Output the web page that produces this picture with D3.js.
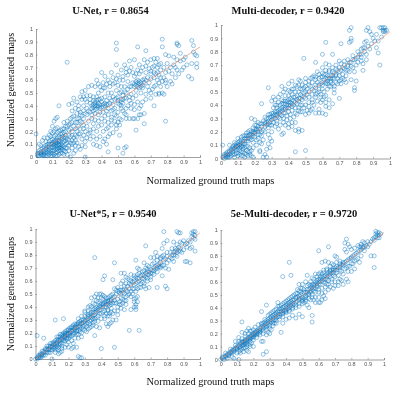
<!DOCTYPE html>
<html><head><meta charset="utf-8">
<script src="https://cdn.jsdelivr.net/npm/d3@7/dist/d3.min.js"></script>
<style>html,body{margin:0;padding:0;background:#fff}svg{display:block;filter:blur(.3px)}</style></head>
<body><svg id="c" width="400" height="394"></svg>
<script>
const tickValues=[0,.1,.2,.3,.4,.5,.6,.7,.8,.9,1];
const titles=["U-Net, r = 0.8654","Multi-decoder, r = 0.9420","U-Net*5, r = 0.9540","5e-Multi-decoder, r = 0.9720"];
const xLabel="Normalized ground truth maps";
const yLabel="Normalized generated maps";
const fitEnds=[[.02,.86],[0,.95],[0,.97],[0,.98]];
const unet=[[.19,.74],[.49,.89],[.49,.84],[.62,.86],[.67,.83],[.77,.92],[.77,.86],[.86,.89],[.86,.88],[.87,.87],[.95,.91],[.96,.87],[.97,.8],[.96,.82],[.98,.79],[.95,.73],[.98,.73],[.98,.7],[.93,.63],[.95,.61],[.79,.28],[.61,.21],[.66,.26],[.3,0],[.5,.07],[.53,.03],[.54,.07],[.55,.08],[.44,.04],[.51,.17],[.14,.4],[.0,.18],[.2,.41],[.22,.42],[.23,.46],[.28,.51],[.3,.52],[.32,.55],[.36,.55],[.37,.6],[.4,.66],[.42,.63],[.46,.66],[.49,.72],[.55,.69],[.57,.75],[.6,.76],[.63,.72],[.66,.76],[.7,.76],[.72,.77],[.74,.77],[.79,.8],[.81,.79],[.84,.78],[.88,.81],[.86,.76],[.9,.76],[.84,.72],[.8,.73],[.76,.73],[.72,.71],[.68,.74],[.65,.7],[.62,.68],[.58,.7],[.54,.72],[.52,.68],[.5,.64],[.47,.62],[.44,.6],[.41,.58],[.38,.57],[.34,.56],[.56,.64],[.6,.63],[.63,.65],[.67,.66],[.7,.67],[.73,.65],[.76,.68],[.79,.66],[.82,.7],[.86,.68],[.89,.68],[.92,.72],[.78,.62],[.74,.6],[.7,.61],[.66,.61],[.62,.6],[.6,.57],[.61,.56],[.63,.57],[.62,.58],[.64,.58],[.59,.58],[.57,.55],[.54,.55],[.52,.55],[.5,.56],[.48,.58],[.45,.55],[.42,.54],[.4,.52],[.38,.5],[.35,.47],[.33,.48],[.3,.45],[.28,.45],[.26,.4],[.24,.38],[.22,.36],[.25,.43],[.68,.55],[.72,.55],[.75,.5],[.78,.49],[.8,.55],[.83,.57],[.76,.55],[.7,.5],[.67,.49],[.64,.5],[.61,.48],[.58,.49],[.55,.5],[.54,.46],[.52,.45],[.5,.47],[.5,.42],[.48,.45],[.52,.43],[.53,.42],[.45,.46],[.43,.44],[.4,.43],[.38,.42],[.36,.42],[.37,.4],[.38,.4],[.39,.41],[.36,.4],[.35,.41],[.37,.44],[.39,.45],[.41,.41],[.42,.4],[.44,.38],[.46,.36],[.48,.38],[.5,.35],[.54,.34],[.57,.3],[.59,.3],[.62,.3],[.63,.33],[.66,.34],[.6,.37],[.64,.4],[.58,.42],[.72,.4],[.34,.38],[.32,.36],[.3,.34],[.28,.32],[.26,.3],[.24,.27],[.22,.27],[.32,.28],[.34,.3],[.36,.34],[.38,.33],[.4,.3],[.42,.28],[.44,.27],[.46,.25],[.48,.28],[.49,.22],[.43,.22],[.41,.2],[.38,.24],[.35,.26],[.31,.24],[.29,.25],[.27,.22],[.25,.2],[.3,.2],[.32,.18],[.35,.1],[.37,.09],[.39,.08],[.42,.14],[.44,.16],[.28,.14],[.3,.08],[.27,.06],[.25,.11],[.24,.05],[.22,.1],[.2,.13],[.18,.2],[.16,.18],[.14,.2],[.12,.22],[.1,.24],[.08,.17],[.06,.12],[.04,.13],[.02,.1],[.1,.19],[.09,.2],[.12,.3],[.13,.31],[.11,.28],[.17,.27],[.19,.24],[.21,.22],[.18,.17],[.17,.15],[.16,.14],[.15,.12],[.14,.1],[.13,.09],[.12,.08],[.11,.09],[.1,.08],[.09,.07],[.08,.06],[.07,.05],[.06,.04],[.05,.03],[.04,.02],[.03,.02],[.02,.01],[.01,.02],[.01,.03],[.03,.04],[.05,.05],[.07,.08],[.09,.1],[.11,.12],[.13,.13],[.15,.15],[.14,.05],[.13,.04],[.12,.03],[.11,.02],[.1,.03],[.09,.01],[.08,.02],[.07,.01],[.06,.01],[.05,.01],[.04,.01],[.16,.03],[.18,.04],[.2,.05],[.21,0],[.19,.07],[.17,.08],[.16,.09],[.18,.1],[.15,.07],[.14,.07],[.12,.06],[.1,.05],[.09,.05],[.19,.14],[.21,.16],[.23,.15],[.13,.15],[.11,.16],[.12,.12],[.1,.11],[.08,.1],[.06,.09],[.17,.05],[.15,.03],[.13,.01],[.03,.06],[.33,.14],[.52,.38],[.55,.38],[.57,.44],[.47,.41],[.49,.32],[.51,.3],[.35,.36],[.33,.42],[.31,.43],[.29,.4],[.27,.35],[.23,.32],[.21,.3],[.2,.25],[.83,.65],[.74,.7],[.75,.64],[.69,.58],[.65,.54],[.56,.59],[.53,.6],[.46,.5],[.44,.5],
[.11,.07],[.12,.13],[.13,.11],[.14,.13],[.15,.1],[.16,.11],[.17,.12],[.18,.13],[.15,.18],[.14,.16],[.12,.17],[.1,.14],[.09,.13],[.08,.12],[.07,.1],[.05,.08],[.04,.07],[.03,.09],[.02,.05],[.06,.06],[.07,.03],[.08,.04],[.1,.01],[.12,.01],[.14,.02],[.16,.06],[.18,.07],[.2,.09],[.21,.11],[.22,.13],[.23,.11],[.24,.13],[.25,.16],[.26,.18],[.27,.18],[.29,.17],[.31,.15],[.3,.12],[.28,.09],[.26,.08],[.24,.09],[.23,.03],[.22,.07],[.19,.11],[.17,.19],[.16,.22],[.15,.21],[.13,.23],[.11,.2],[.09,.16],[.07,.15],[.05,.15],[.13,.19],[.18,.24],[.2,.21],[.22,.2],[.24,.22],[.26,.24],[.28,.27],[.29,.3],[.31,.33],[.33,.35],[.34,.33],[.36,.37],[.37,.38],[.38,.39],[.39,.38],[.4,.39],[.41,.39],[.42,.42],[.43,.41],[.44,.41],[.34,.4],[.35,.39],[.36,.43],[.38,.45],[.4,.46],[.42,.47],[.37,.47],[.35,.44],[.33,.45],[.31,.48],[.29,.47],[.27,.47],[.26,.37],[.25,.34],[.23,.24],[.25,.27],[.27,.28],[.29,.22],[.33,.21],[.35,.22],[.37,.2],[.36,.29],[.38,.28],[.4,.25],[.42,.32],[.44,.33],[.46,.31],[.48,.33],[.5,.27],[.47,.19],[.45,.18],[.43,.1],[.41,.12],[.39,.16],[.37,.14],[.35,.16],[.33,.19],[.49,.25],[.51,.25],[.53,.36],[.55,.33],[.56,.4],[.58,.38],[.6,.41],[.62,.43],[.63,.38],[.65,.43],[.67,.45],[.7,.46],[.73,.49],[.75,.49],[.77,.5],[.69,.52],[.71,.53],[.73,.56],[.75,.58],[.77,.59],[.79,.58],[.82,.59],[.85,.62],[.87,.65],[.9,.7],[.91,.78],[.88,.75],[.85,.7],[.81,.67],[.78,.7],[.75,.72],[.73,.74],[.71,.7],[.69,.69],[.67,.71],[.64,.67],[.61,.65],[.59,.66],[.57,.67],[.55,.66],[.53,.63],[.51,.6],[.49,.61],[.47,.57],[.45,.58],[.43,.57],[.41,.54],[.39,.55],[.49,.52],[.51,.5],[.53,.48],[.55,.46],[.57,.47],[.59,.46],[.61,.52],[.63,.54],[.65,.56],[.66,.58],[.6,.55],[.62,.55],[.64,.55],[.61,.59],[.63,.59],[.65,.6],[.67,.6],[.58,.55],[.56,.53],[.54,.51],[.52,.51],[.5,.44],[.51,.41],[.53,.45],[.52,.4],[.49,.46],[.47,.47],[.46,.44],[.45,.42],[.47,.37],[.43,.36],[.41,.35],[.39,.35],[.68,.62],[.7,.65],[.72,.62],[.74,.66],[.72,.66],[.76,.62],[.79,.6],[.55,.3],[.6,.3],[.64,.33],[.52,.29],[.46,.29],[.44,.23],[.31,.38],[.29,.36],[.27,.33],[.25,.3],[.22,.31],[.21,.26],[.19,.28],[.17,.22],[.2,.17],[.22,.17],[.24,.17],[.18,.15],[.16,.16],[.14,.12],[.12,.1],[.1,.1],[.08,.08],[.06,.07],[.04,.04],[.02,.03],[.03,.03],[.01,.01],[.05,.02],[.09,.03],[.11,.05],[.13,.06],[.15,.05],[.17,.02],[.19,.02],[.13,.07],[.15,.08],[.16,.07],[.14,.09],[.12,.11],[.11,.1]];
const multi=[[.77,.98],[.76,.96],[.77,.9],[.77,.88],[.76,.87],[.62,.87],[.71,.86],[.86,.96],[.87,.98],[.88,.95],[.89,.93],[.9,.9],[.94,.98],[.95,.98],[.96,.98],[.97,.98],[.96,.96],[.97,.96],[.96,.95],[.97,.95],[.93,.88],[.92,.83],[.93,.79],[.94,.7],[.86,.88],[.85,.87],[.84,.83],[.83,.82],[.88,.82],[.81,.8],[.78,.77],[.8,.75],[.83,.76],[.86,.74],[.84,.71],[.84,.66],[.8,.7],[.76,.72],[.73,.73],[.71,.71],[.72,.68],[.75,.66],[.77,.69],[.79,.65],[.8,.58],[.79,.53],[.79,.51],[.77,.59],[.74,.62],[.74,.57],[.71,.56],[.7,.45],[.67,.49],[.67,.54],[.65,.58],[.62,.57],[.63,.52],[.61,.46],[.6,.44],[.62,.47],[.64,.44],[.66,.41],[.64,.38],[.62,.39],[.6,.34],[.62,.33],[.59,.42],[.56,.34],[.58,.37],[.55,.4],[.52,.46],[.54,.48],[.56,.53],[.58,.55],[.6,.57],[.63,.6],[.65,.62],[.67,.64],[.69,.66],[.66,.68],[.64,.7],[.62,.71],[.6,.68],[.66,.78],[.6,.78],[.56,.72],[.57,.65],[.55,.62],[.53,.6],[.49,.75],[.5,.6],[.47,.58],[.46,.59],[.42,.58],[.4,.56],[.38,.52],[.41,.5],[.43,.52],[.45,.54],[.47,.52],[.49,.53],[.51,.52],[.53,.54],[.59,.61],[.61,.63],[.63,.62],[.65,.57],[.67,.6],[.69,.6],[.7,.62],[.72,.63],[.74,.66],[.76,.65],[.62,.56],[.6,.55],[.58,.52],[.56,.48],[.54,.44],[.52,.42],[.5,.45],[.48,.47],[.46,.45],[.44,.46],[.42,.44],[.4,.44],[.38,.43],[.36,.44],[.34,.46],[.32,.44],[.3,.43],[.37,.41],[.39,.4],[.41,.4],[.43,.4],[.45,.41],[.47,.4],[.49,.38],[.51,.36],[.53,.36],[.48,.35],[.46,.36],[.44,.34],[.42,.36],[.4,.38],[.38,.37],[.36,.38],[.35,.37],[.34,.36],[.33,.38],[.32,.35],[.31,.34],[.3,.34],[.29,.33],[.28,.33],[.27,.3],[.26,.31],[.28,.53],[.24,.41],[.31,.38],[.33,.32],[.35,.33],[.37,.34],[.39,.32],[.41,.3],[.4,.26],[.42,.24],[.44,.27],[.46,.22],[.48,.21],[.35,.25],[.37,.27],[.38,.25],[.36,.18],[.37,.19],[.33,.28],[.31,.27],[.3,.25],[.3,.2],[.28,.23],[.28,.18],[.29,.15],[.3,.13],[.28,.11],[.29,.08],[.27,.07],[.26,.03],[.27,.01],[.25,.01],[.23,.06],[.23,.05],[.24,.11],[.24,.17],[.25,.21],[.26,.24],[.24,.26],[.22,.27],[.2,.25],[.18,.3],[.2,.29],[.22,.24],[.21,.22],[.19,.2],[.17,.18],[.18,.16],[.16,.2],[.15,.17],[.14,.15],[.13,.17],[.12,.14],[.11,.13],[.1,.12],[.09,.11],[.08,.1],[.07,.09],[.06,.07],[.05,.06],[.04,.05],[.03,.04],[.02,.02],[.01,.01],[.01,.1],[.05,.1],[.07,.08],[.09,.09],[.11,.1],[.13,.11],[.15,.13],[.17,.15],[.19,.17],[.2,.19],[.21,.14],[.19,.12],[.17,.08],[.16,.05],[.15,.03],[.14,.04],[.13,.02],[.12,.05],[.11,.03],[.1,.02],[.09,.04],[.08,.03],[.07,.05],[.06,.02],[.05,.01],[.04,.01],[.03,.01],[.02,0],[.18,.02],[.19,.01],[.17,.03],[.16,.09],[.14,.08],[.12,.09],[.1,.07],[.08,.07],[.15,.09],[.13,.07],[.44,.05],[.5,.06],[.44,.21],[.46,.2],[.25,.14],[.22,.2],[.23,.18],[.26,.27],[.29,.27],[.32,.4],[.34,.42],[.31,.46],[.35,.48],[.36,.54],[.55,.51],[.57,.49],[.59,.48],[.61,.5],[.64,.54],[.66,.56],[.68,.57],[.7,.58],[.72,.6],[.68,.7],[.7,.73],[.75,.74],[.78,.74],[.82,.78],[.85,.8],
[.12,.12],[.13,.13],[.14,.13],[.15,.15],[.16,.15],[.17,.17],[.18,.18],[.19,.19],[.2,.2],[.21,.21],[.22,.22],[.23,.22],[.24,.24],[.11,.11],[.1,.1],[.09,.09],[.08,.08],[.07,.07],[.06,.06],[.05,.05],[.04,.03],[.03,.03],[.15,.19],[.17,.21],[.19,.23],[.21,.25],[.23,.26],[.25,.28],[.27,.27],[.16,.17],[.14,.17],[.12,.16],[.1,.15],[.08,.12],[.18,.2],[.2,.22],[.22,.18],[.2,.16],[.18,.14],[.16,.13],[.14,.11],[.12,.1],[.1,.09],[.28,.3],[.29,.31],[.3,.31],[.31,.32],[.32,.33],[.33,.33],[.34,.34],[.35,.35],[.36,.36],[.37,.37],[.38,.38],[.39,.38],[.4,.4],[.41,.42],[.42,.41],[.43,.43],[.44,.42],[.45,.44],[.46,.43],[.47,.45],[.48,.44],[.49,.46],[.33,.4],[.35,.4],[.36,.41],[.37,.43],[.38,.41],[.39,.43],[.4,.42],[.41,.45],[.43,.46],[.45,.47],[.47,.48],[.49,.49],[.51,.48],[.5,.5],[.52,.5],[.54,.52],[.56,.55],[.57,.57],[.59,.56],[.61,.59],[.63,.58],[.65,.6],[.66,.62],[.68,.63],[.7,.65],[.71,.66],[.73,.67],[.64,.65],[.62,.63],[.6,.61],[.58,.6],[.56,.59],[.54,.57],[.52,.55],[.5,.54],[.48,.52],[.46,.5],[.44,.5],[.42,.48],[.4,.47],[.38,.47],[.37,.5],[.62,.6],[.64,.6],[.66,.6],[.68,.62],[.63,.56],[.65,.54],[.67,.52],[.69,.56],[.71,.59],[.73,.59],[.6,.52],[.58,.5],[.56,.46],[.54,.42],[.52,.39],[.5,.4],[.48,.4],[.46,.38],[.44,.38],[.42,.39],[.4,.35],[.38,.34],[.36,.32],[.34,.31],[.32,.3],[.3,.29],[.28,.28],[.26,.26],[.27,.25],[.29,.25],[.31,.3],[.33,.35],[.35,.3],[.37,.3],[.39,.29],[.41,.33],[.43,.31],[.45,.33],[.47,.35],[.5,.33],[.52,.34],[.54,.37],[.57,.43],[.59,.46],[.62,.42],[.58,.34],[.42,.27],[.4,.23],[.34,.22],[.32,.24],[.33,.26],[.28,.26],[.24,.2],[.26,.2],[.22,.15],[.23,.12],[.21,.1],[.19,.08],[.18,.06],[.17,.05],[.16,.02],[.14,.01],[.12,.02],[.1,.04],[.08,.01],[.06,.04],[.04,.02],[.02,.03],[.03,.02],[.05,.03],[.07,.03],[.09,.06],[.11,.06],[.13,.05],[.15,.06],[.11,.08],[.13,.09],[.75,.7],[.77,.72],[.79,.74],[.81,.76],[.83,.78],[.85,.83],[.87,.84],[.89,.86],[.86,.78],[.83,.73],[.81,.72],[.78,.68],[.75,.69],[.73,.7],[.7,.68],[.68,.67],[.66,.65],[.64,.66],[.62,.66],[.6,.64],[.58,.63],[.56,.61],[.54,.61],[.52,.58],[.5,.57],[.48,.55],[.46,.55],[.44,.55],[.42,.52],[.4,.51],[.92,.93],[.91,.88],[.95,.91],[.98,.96]];
const unet5=[[.78,.98],[.86,.98],[.87,.97],[.88,.97],[.95,.97],[.96,.98],[.97,.98],[.96,.96],[.97,.95],[.95,.94],[.96,.93],[.97,.92],[.97,.83],[.95,.86],[.94,.85],[.92,.86],[.91,.75],[.92,.75],[.94,.74],[.86,.88],[.85,.85],[.84,.9],[.89,.89],[.88,.9],[.9,.91],[.8,.91],[.78,.89],[.77,.85],[.67,.87],[.73,.82],[.36,.78],[.48,.74],[.61,.76],[.42,.64],[.41,.61],[.47,.61],[.52,.66],[.54,.66],[.56,.62],[.58,.65],[.6,.64],[.62,.7],[.63,.69],[.66,.74],[.68,.72],[.7,.78],[.72,.78],[.74,.79],[.76,.77],[.78,.8],[.8,.82],[.83,.85],[.82,.78],[.85,.8],[.87,.83],[.84,.75],[.81,.69],[.79,.7],[.77,.64],[.79,.56],[.8,.54],[.74,.55],[.7,.61],[.69,.55],[.67,.54],[.66,.56],[.65,.59],[.64,.58],[.63,.55],[.61,.52],[.62,.44],[.61,.42],[.6,.46],[.6,.4],[.58,.38],[.61,.4],[.54,.45],[.53,.43],[.55,.42],[.52,.42],[.5,.4],[.5,.52],[.49,.53],[.48,.54],[.51,.51],[.52,.5],[.53,.53],[.54,.56],[.55,.58],[.56,.56],[.57,.54],[.58,.57],[.59,.59],[.6,.6],[.62,.62],[.64,.64],[.65,.65],[.67,.66],[.68,.67],[.7,.69],[.72,.7],[.74,.72],[.76,.74],[.71,.66],[.73,.69],[.69,.65],[.66,.62],[.63,.6],[.6,.57],[.57,.5],[.55,.48],[.52,.47],[.5,.46],[.48,.45],[.46,.45],[.45,.43],[.44,.42],[.43,.44],[.42,.43],[.41,.42],[.4,.4],[.39,.38],[.38,.37],[.37,.36],[.36,.34],[.35,.33],[.34,.32],[.33,.33],[.32,.31],[.31,.3],[.3,.29],[.29,.28],[.28,.27],[.27,.27],[.26,.25],[.25,.24],[.24,.23],[.23,.22],[.22,.21],[.21,.2],[.2,.2],[.19,.19],[.18,.18],[.17,.17],[.16,.15],[.15,.14],[.14,.14],[.13,.12],[.12,.11],[.11,.11],[.1,.09],[.09,.09],[.08,.07],[.07,.07],[.06,.05],[.05,.05],[.04,.04],[.03,.03],[.02,.02],[.01,.01],[0,0],[.01,0],[.02,.03],[.04,.06],[.06,.08],[.08,.1],[.1,.12],[.12,.14],[.14,.17],[.16,.19],[.18,.21],[.2,.23],[.22,.25],[.24,.27],[.26,.31],[.28,.33],[.3,.36],[.32,.37],[.34,.4],[.36,.42],[.38,.44],[.39,.5],[.37,.5],[.34,.47],[.4,.5],[.42,.48],[.44,.47],[.46,.49],[.41,.46],[.39,.43],[.36,.39],[.34,.36],[.32,.34],[.3,.33],[.28,.3],[.26,.28],[.24,.25],[.22,.24],[.2,.22],[.18,.2],[.17,.31],[.12,.3],[.05,.16],[.01,.18],[.15,.17],[.13,.15],[.11,.13],[.09,.12],[.07,.1],[.1,.07],[.12,.09],[.14,.11],[.16,.12],[.18,.14],[.2,.16],[.22,.18],[.24,.2],[.26,.22],[.28,.24],[.3,.26],[.32,.28],[.34,.3],[.36,.31],[.38,.33],[.4,.35],[.42,.37],[.44,.38],[.46,.39],[.48,.37],[.47,.35],[.45,.33],[.49,.3],[.47,.3],[.46,.28],[.45,.27],[.44,.25],[.43,.27],[.42,.33],[.36,.18],[.39,.24],[.37,.25],[.35,.26],[.33,.24],[.31,.21],[.3,.22],[.28,.2],[.26,.19],[.25,.19],[.24,.16],[.22,.14],[.2,.13],[.19,.11],[.18,.09],[.16,.08],[.15,.05],[.14,.04],[.1,0],[.23,.09],[.25,.09],[.22,.08],[.26,.02],[.28,.01],[.27,.01],[.4,.08],[.48,.09],[.57,.22],[.63,.22],[.68,.62],[.75,.71],[.77,.72],[.8,.74],[.83,.77],[.86,.79],[.9,.84],[.92,.89],[.93,.91],
[.12,.12],[.13,.13],[.14,.15],[.15,.15],[.16,.16],[.17,.18],[.18,.19],[.19,.2],[.2,.19],[.21,.22],[.22,.22],[.23,.24],[.24,.24],[.11,.12],[.1,.1],[.09,.1],[.08,.08],[.07,.08],[.06,.07],[.05,.06],[.04,.03],[.03,.04],[.13,.17],[.15,.19],[.17,.2],[.19,.22],[.21,.24],[.23,.26],[.25,.27],[.27,.29],[.16,.18],[.18,.17],[.2,.18],[.17,.14],[.15,.12],[.14,.09],[.13,.1],[.12,.07],[.11,.09],[.16,.1],[.18,.16],[.19,.15],[.21,.17],[.23,.19],[.25,.21],[.27,.23],[.29,.25],[.31,.27],[.33,.29],[.35,.31],[.25,.26],[.26,.27],[.27,.25],[.28,.28],[.29,.3],[.3,.3],[.31,.32],[.32,.33],[.33,.35],[.34,.34],[.35,.36],[.36,.36],[.37,.38],[.38,.39],[.39,.4],[.4,.42],[.41,.43],[.42,.44],[.43,.42],[.44,.44],[.45,.45],[.46,.46],[.47,.47],[.48,.48],[.3,.37],[.32,.4],[.33,.41],[.35,.43],[.37,.45],[.38,.47],[.36,.48],[.4,.47],[.41,.49],[.43,.47],[.45,.48],[.35,.38],[.37,.4],[.39,.41],[.41,.4],[.43,.4],[.45,.41],[.47,.43],[.49,.43],[.51,.44],[.53,.46],[.55,.45],[.56,.49],[.58,.52],[.59,.54],[.61,.58],[.62,.59],[.63,.62],[.65,.62],[.66,.64],[.67,.63],[.68,.65],[.69,.67],[.7,.66],[.71,.68],[.72,.68],[.73,.71],[.74,.7],[.75,.73],[.76,.71],[.78,.76],[.79,.77],[.8,.79],[.81,.76],[.83,.8],[.84,.82],[.86,.84],[.85,.83],[.87,.86],[.88,.85],[.89,.82],[.78,.72],[.76,.7],[.74,.67],[.72,.65],[.7,.63],[.68,.6],[.66,.58],[.64,.55],[.62,.54],[.6,.54],[.59,.5],[.58,.48],[.61,.47],[.62,.48],[.6,.44],[.61,.38],[.54,.5],[.55,.53],[.56,.52],[.53,.51],[.51,.53],[.49,.5],[.47,.5],[.5,.55],[.52,.53],[.54,.54],[.57,.58],[.58,.6],[.57,.61],[.55,.63],[.53,.6],[.52,.58],[.6,.62],[.61,.63],[.62,.65],[.63,.66],[.65,.67],[.66,.68],[.67,.7],[.68,.69],[.69,.71],[.71,.73],[.72,.74],[.74,.76],[.76,.78],[.77,.79],[.44,.37],[.46,.36],[.45,.35],[.43,.35],[.41,.36],[.39,.35],[.37,.32],[.35,.28],[.33,.27],[.31,.25],[.29,.23],[.27,.21],[.25,.22],[.23,.2],[.21,.18],[.19,.16],[.17,.15],[.15,.11],[.13,.08],[.11,.08],[.09,.07],[.07,.05],[.05,.03],[.03,.02],[.02,.01],[.03,.01],[.04,.02],[.06,.03],[.08,.05],[.09,.05],[.12,.05],[.14,.07],[.16,.06],[.2,.09],[.23,.12],[.26,.16],[.28,.17],[.32,.23],[.34,.25],[.36,.29],[.38,.29],[.4,.31],[.42,.31],[.44,.33],[.5,.37],[.52,.39],[.54,.38],[.5,.34],[.51,.42],[.48,.43],[.46,.42],[.44,.45],[.42,.4],[.82,.82],[.84,.8],[.86,.82],[.88,.83],[.91,.88],[.94,.9]];
const multi5=[[.95,.99],[.96,.98],[.97,.98],[.95,.97],[.96,.96],[.97,.96],[.98,.97],[.95,.95],[.96,.94],[.97,.94],[.94,.92],[.92,.91],[.9,.91],[.89,.88],[.87,.91],[.88,.9],[.86,.89],[.85,.87],[.86,.87],[.87,.86],[.84,.88],[.82,.86],[.77,.93],[.76,.9],[.78,.89],[.79,.87],[.66,.87],[.6,.84],[.76,.85],[.77,.83],[.8,.85],[.92,.8],[.94,.8],[.94,.71],[.42,.75],[.38,.64],[.43,.65],[.53,.65],[.56,.63],[.58,.66],[.6,.66],[.62,.75],[.64,.76],[.66,.75],[.68,.74],[.7,.8],[.71,.79],[.73,.76],[.75,.75],[.8,.78],[.83,.77],[.85,.75],[.81,.74],[.79,.72],[.77,.71],[.75,.73],[.73,.72],[.71,.72],[.69,.7],[.67,.72],[.65,.7],[.63,.69],[.62,.66],[.61,.64],[.6,.62],[.59,.61],[.58,.6],[.57,.58],[.56,.58],[.55,.57],[.54,.58],[.52,.6],[.5,.58],[.48,.58],[.47,.54],[.49,.55],[.51,.54],[.53,.54],[.55,.53],[.57,.55],[.59,.57],[.61,.58],[.63,.6],[.65,.62],[.67,.64],[.69,.65],[.71,.67],[.73,.69],[.75,.66],[.78,.68],[.8,.68],[.82,.7],[.77,.62],[.78,.6],[.73,.62],[.75,.58],[.7,.6],[.68,.6],[.72,.57],[.69,.55],[.66,.58],[.64,.56],[.62,.51],[.6,.52],[.58,.48],[.56,.48],[.55,.46],[.54,.5],[.52,.48],[.5,.48],[.48,.47],[.46,.47],[.44,.46],[.43,.43],[.42,.42],[.41,.41],[.4,.4],[.39,.38],[.38,.38],[.37,.37],[.36,.37],[.35,.35],[.34,.34],[.33,.33],[.32,.32],[.31,.31],[.3,.3],[.29,.29],[.28,.28],[.27,.27],[.26,.26],[.25,.25],[.24,.24],[.23,.23],[.22,.22],[.21,.21],[.2,.2],[.19,.19],[.18,.18],[.17,.17],[.16,.16],[.15,.15],[.14,.14],[.13,.13],[.12,.12],[.11,.11],[.1,.1],[.09,.09],[.08,.08],[.07,.07],[.06,.06],[.05,.05],[.04,.04],[.03,.03],[.02,.02],[.01,.01],[0,0],[.01,.02],[.02,0],[.03,.05],[.05,.03],[.06,.08],[.07,.05],[.08,.06],[.09,.11],[.1,.08],[.11,.14],[.12,.09],[.13,.16],[.14,.11],[.15,.18],[.16,.12],[.17,.2],[.18,.14],[.19,.22],[.2,.17],[.21,.25],[.22,.19],[.23,.27],[.24,.21],[.25,.28],[.26,.22],[.27,.31],[.28,.25],[.29,.34],[.3,.26],[.31,.36],[.32,.28],[.33,.38],[.34,.3],[.35,.41],[.36,.31],[.37,.42],[.38,.33],[.39,.44],[.4,.36],[.41,.46],[.42,.37],[.43,.48],[.44,.39],[.45,.5],[.46,.4],[.47,.51],[.48,.41],[.49,.52],[.5,.43],[.51,.44],[.52,.45],[.54,.4],[.58,.44],[.6,.44],[.61,.44],[.62,.46],[.64,.47],[.56,.34],[.56,.29],[.5,.33],[.48,.35],[.46,.32],[.44,.34],[.42,.32],[.4,.31],[.38,.28],[.37,.21],[.33,.28],[.31,.23],[.29,.21],[.3,.2],[.28,.19],[.26,.14],[.25,.14],[.28,.06],[.26,.04],[.25,.37],[.28,.42],[.35,.44],[.13,.29],[.17,.24],[.18,.22],[.2,.23],[.15,.09],[.17,.06],[.14,.06],[.12,.05],[.1,.05],[.11,0],[.08,.01],[.07,.02],[.04,.01],[.15,.2],[.13,.21],[.11,.17],[.09,.14],[.16,.22],[.18,.12],[.2,.1],[.19,.13],[.17,.11],[.16,.1],[.15,.12],[.14,.09],[.13,.08],[.12,.07],[.11,.06],
[.12,.13],[.13,.14],[.14,.13],[.15,.14],[.16,.15],[.17,.16],[.18,.17],[.19,.18],[.2,.19],[.21,.2],[.22,.21],[.23,.22],[.24,.23],[.11,.1],[.1,.09],[.09,.08],[.08,.07],[.07,.06],[.06,.05],[.05,.04],[.04,.03],[.03,.02],[.12,.1],[.13,.11],[.14,.12],[.15,.13],[.16,.14],[.17,.15],[.18,.16],[.19,.17],[.2,.18],[.21,.19],[.22,.2],[.23,.2],[.24,.22],[.25,.23],[.26,.24],[.27,.25],[.28,.26],[.29,.27],[.3,.28],[.31,.29],[.32,.3],[.33,.31],[.34,.32],[.35,.33],[.36,.35],[.37,.35],[.38,.36],[.39,.37],[.4,.38],[.41,.39],[.42,.4],[.43,.41],[.44,.42],[.45,.43],[.46,.44],[.47,.45],[.48,.46],[.49,.47],[.5,.46],[.51,.47],[.52,.49],[.53,.5],[.54,.51],[.55,.52],[.56,.54],[.57,.53],[.58,.55],[.59,.56],[.6,.58],[.61,.6],[.62,.61],[.63,.62],[.64,.62],[.65,.64],[.66,.65],[.67,.66],[.68,.67],[.69,.67],[.7,.69],[.71,.69],[.72,.71],[.73,.71],[.74,.73],[.75,.74],[.76,.75],[.77,.76],[.78,.77],[.79,.78],[.8,.79],[.81,.8],[.82,.81],[.83,.82],[.84,.83],[.85,.84],[.86,.85],[.87,.87],[.88,.87],[.25,.27],[.26,.28],[.27,.29],[.28,.3],[.29,.31],[.3,.32],[.31,.33],[.32,.34],[.33,.35],[.34,.36],[.35,.37],[.36,.39],[.37,.39],[.38,.4],[.39,.41],[.4,.42],[.41,.43],[.42,.44],[.43,.45],[.44,.44],[.45,.46],[.46,.48],[.47,.48],[.48,.49],[.49,.5],[.5,.51],[.51,.52],[.52,.52],[.53,.52],[.54,.54],[.55,.55],[.56,.56],[.57,.57],[.58,.58],[.59,.59],[.6,.6],[.61,.62],[.62,.63],[.63,.64],[.64,.65],[.65,.66],[.66,.67],[.67,.68],[.68,.69],[.69,.69],[.7,.71],[.3,.35],[.32,.37],[.34,.39],[.36,.41],[.38,.43],[.4,.45],[.42,.47],[.44,.49],[.46,.51],[.48,.53],[.5,.55],[.53,.57],[.55,.6],[.57,.62],[.59,.64],[.61,.67],[.63,.67],[.65,.69],[.67,.69],[.69,.73],[.71,.75],[.73,.74],[.46,.42],[.44,.4],[.42,.38],[.4,.37],[.38,.35],[.36,.33],[.34,.28],[.32,.26],[.3,.24],[.28,.23],[.26,.2],[.24,.19],[.22,.17],[.2,.15],[.18,.1],[.16,.07],[.48,.43],[.5,.45],[.52,.46],[.54,.47],[.56,.5],[.58,.52],[.6,.54],[.62,.55],[.64,.59],[.66,.61],[.68,.62],[.7,.64],[.72,.65],[.74,.68],[.76,.7],[.78,.72],[.8,.74],[.82,.76],[.84,.78],[.86,.8],[.88,.84],[.9,.87],[.91,.89],[.93,.93],[.94,.94],[.64,.52],[.66,.54],[.63,.49],[.65,.58],[.67,.56],[.7,.57],[.72,.6],[.74,.61],[.6,.48],[.57,.46],[.53,.42]];
const series=[unet,multi,unet5,multi5];
const panels=[{l:36,r:200,t:29,b:157},{l:221,r:390,t:25,b:158.5},{l:35.5,r:200,t:229,b:359},{l:220.7,r:384,t:230,b:359.5}];
const titlePos=[[110.5,14],[288,14],[113,217],[294,217]];
const svg=d3.select("#c");
panels.forEach((p,i)=>{
  const x=d3.scaleLinear().domain([0,1]).range([p.l,p.r]);
  const y=d3.scaleLinear().domain([0,1]).range([p.b,p.t]);
  const g=svg.append("g");
  const ax=g.append("g").attr("transform",`translate(0,${p.b})`).call(d3.axisBottom(x).tickValues(tickValues).tickFormat(d3.format("~g")).tickSize(-1.5).tickPadding(3));
  const ay=g.append("g").attr("transform",`translate(${p.l},0)`).call(d3.axisLeft(y).tickValues(tickValues).tickFormat(d3.format("~g")).tickSize(-1.5).tickPadding(3));
  [ax,ay].forEach(a=>{a.selectAll("path").attr("stroke","#777").attr("stroke-width",.7).attr("fill","none");
    a.selectAll("line").attr("stroke","#777").attr("stroke-width",.6);
    a.selectAll("text").attr("fill","#555").attr("font-size",5.5).attr("font-family","Liberation Sans");});
  g.append("g").selectAll("circle").data(series[i]).join("circle")
    .attr("cx",d=>x(d[0])).attr("cy",d=>y(d[1])).attr("r",2)
    .attr("fill","none").attr("stroke","#0072bd").attr("stroke-opacity",.55).attr("stroke-width",.75);
  g.append("line").attr("x1",x(0)).attr("x2",x(1)).attr("y1",y(fitEnds[i][0])).attr("y2",y(fitEnds[i][1]))
    .attr("stroke","#e8805a").attr("stroke-opacity",.75).attr("stroke-width",.8);
  svg.append("text").attr("x",titlePos[i][0]).attr("y",titlePos[i][1]).attr("text-anchor","middle")
    .attr("font-family","Liberation Serif").attr("font-weight","bold").attr("font-size",10.5).attr("fill","#111").text(titles[i]);
});
[184,385].forEach(b=>svg.append("text").attr("x",210.5).attr("y",b).attr("text-anchor","middle")
  .attr("font-family","Liberation Serif").attr("font-size",10.4).attr("fill","#111").text(xLabel));
[90,294].forEach(c=>svg.append("text").attr("transform",`translate(14,${c}) rotate(-90)`).attr("text-anchor","middle")
  .attr("font-family","Liberation Serif").attr("font-size",10.2).attr("fill","#111").text(yLabel));
</script></body></html>
